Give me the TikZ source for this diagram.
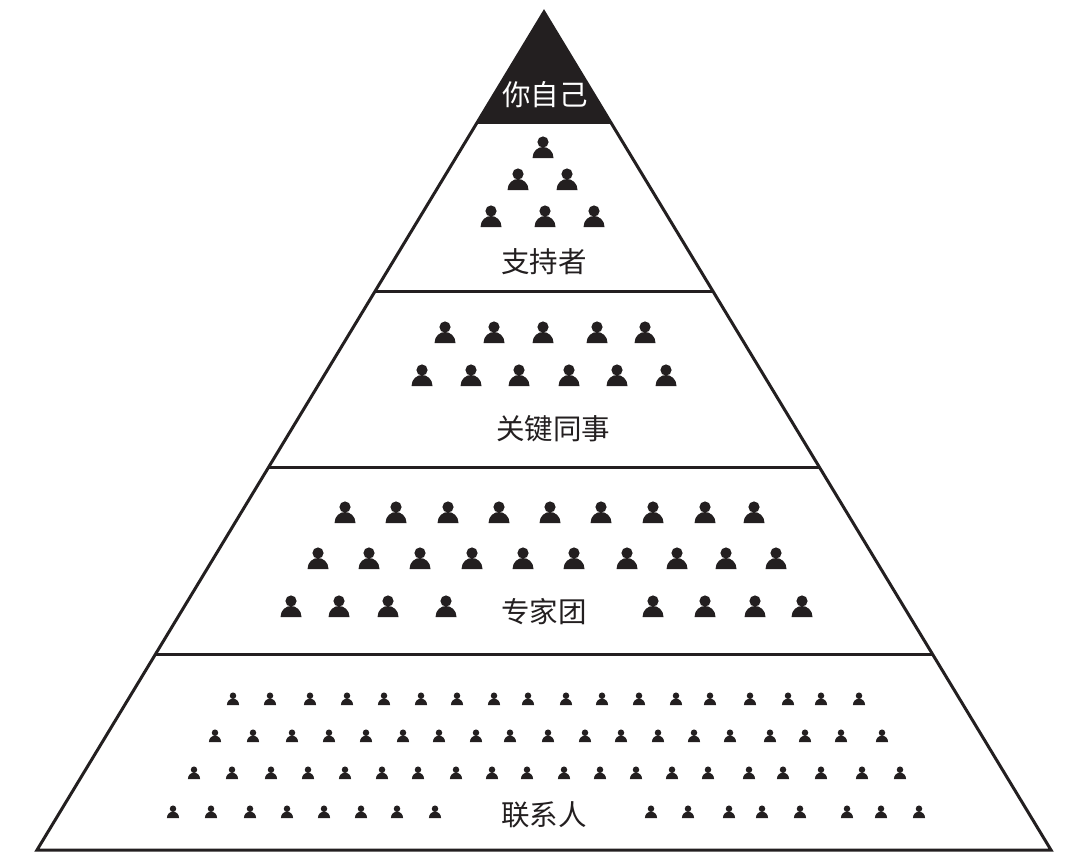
\documentclass[tikz,border=0pt]{standalone}
\usepackage{fontspec}
\setmainfont{Noto Sans CJK SC}
\definecolor{ink}{HTML}{231F20}
\tikzset{edge/.style={draw=ink, line width=3pt, line join=miter},
  lbl/.style={font=\fontsize{28.5}{30}\selectfont, text=ink, inner sep=0pt},
  person/.pic={
    \fill[ink] (0,-16) circle[radius=5.6];
    \fill[ink] (-10.5,0) .. controls (-10.5,-7) and (-5,-11) .. (0,-11)
      .. controls (5,-11) and (10.5,-7) .. (10.5,0) -- cycle;
  }}

\begin{document}
\begin{tikzpicture}[x=1pt, y=-1pt]
  \useasboundingbox (0,0) rectangle (1080,860);
  \fill[white] (0,0) rectangle (1080,860);
  % pyramid
  \coordinate (top) at (544,12);
  \coordinate (bl) at (37,850);
  \coordinate (br) at (1051,850);
  \coordinate (a1) at (478,122);
  \coordinate (a2) at (610,122);
  \coordinate (b1) at (375,291);
  \coordinate (b2) at (713,291);
  \coordinate (c1) at (269,467);
  \coordinate (c2) at (819,467);
  \coordinate (d1) at (156,654);
  \coordinate (d2) at (932,654);
  \fill[ink] (top) -- (a2) -- (a1) -- cycle;
  \draw[edge] (top) -- (br) -- (bl) -- cycle;
  \draw[edge] (a1) -- (a2);
  \draw[edge] (b1) -- (b2);
  \draw[edge] (c1) -- (c2);
  \draw[edge] (d1) -- (d2);
  % labels
  \node[lbl, text=white] (self) at (545,95) {你自己};
  \node[lbl] (backers) at (544,262) {支持者};
  \node[lbl] (peers) at (553,429) {关键同事};
  \node[lbl] (experts) at (544,612) {专家团};
  \node[lbl] (contacts) at (544,815) {联系人};
  % supporters
  \foreach \px/\py in {543/158,518/190,567/190,491/227,545/227,594/227}
    \pic at (\px,\py) {person};
  % colleagues
  \foreach \px in {445,494,543,597,645} \pic at (\px,343) {person};
  \foreach \px in {422,471,519,569,617,666} \pic at (\px,386) {person};
  % experts
  \foreach \px in {345,396,448,499,550,601,653,705,754} \pic at (\px,523) {person};
  \foreach \px in {318,369,420,472,523,574,627,677,726,776} \pic at (\px,569) {person};
  \foreach \px in {291,339,388,446,653,705,755,802} \pic at (\px,617) {person};
  % contacts
  \foreach \px in {233,270,310,347,384,421,457,494,528,566,602,639,676,710,750,788,821,859}
    \pic[scale=.58] at (\px,705) {person};
  \foreach \px in {215,253,292,329,366,403,439,476,510,548,585,621,658,694,730,770,805,841,882}
    \pic[scale=.58] at (\px,742) {person};
  \foreach \px in {194,232,271,308,345,382,418,456,492,527,564,600,636,672,708,749,783,821,862,900}
    \pic[scale=.58] at (\px,779) {person};
  \foreach \px in {173,211,250,287,324,361,397,435,651,688,729,762,800,847,881,919}
    \pic[scale=.58] at (\px,818) {person};
\end{tikzpicture}
\end{document}
